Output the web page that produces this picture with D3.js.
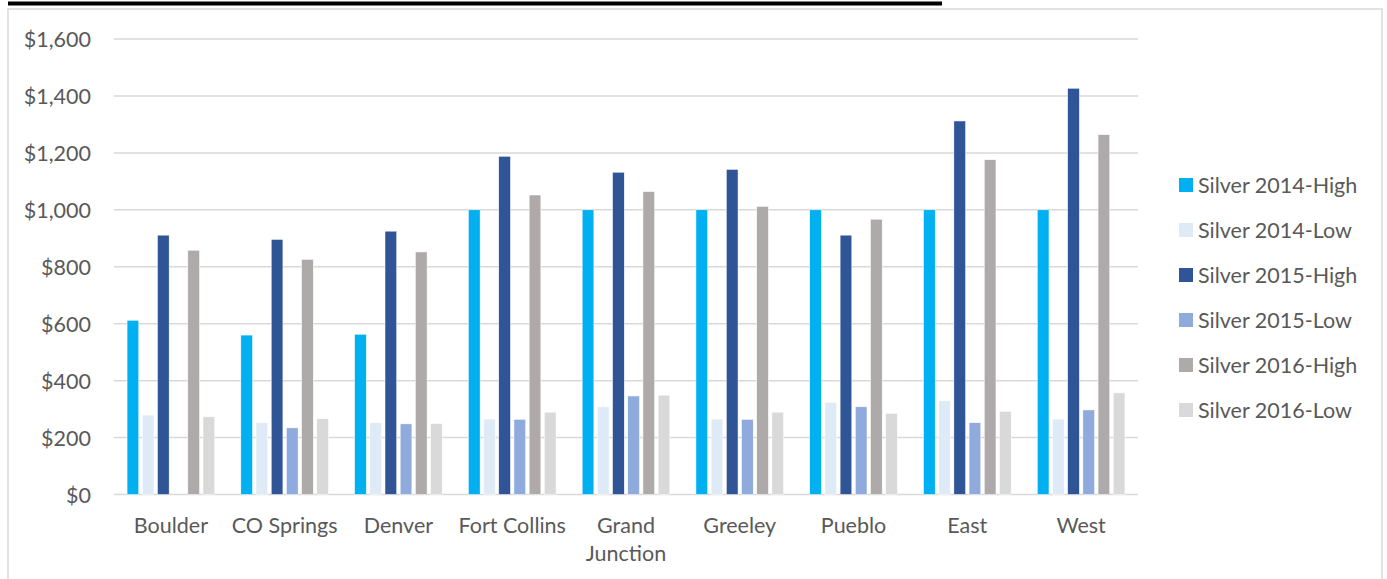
<!DOCTYPE html>
<html>
<head>
<meta charset="utf-8">
<script src="https://cdn.jsdelivr.net/npm/d3@7"></script>
<style>
  body { margin: 0; background: #fff; }
  text { font-family: Lato, "Open Sans", sans-serif; fill: #595959; }
</style>
</head>
<body>
<div id="chart"></div>
<script>
const regions = ["Boulder", "CO Springs", "Denver", "Fort Collins", "Grand Junction", "Greeley", "Pueblo", "East", "West"];
const seriesNames = ["Silver 2014-High", "Silver 2014-Low", "Silver 2015-High", "Silver 2015-Low", "Silver 2016-High", "Silver 2016-Low"];
const silver2014High = [612, 560, 563, 1000, 1000, 1000, 1000, 1000, 1000];
const silver2014Low  = [279, 252, 252, 265, 308, 265, 324, 329, 265];
const silver2015High = [911, 896, 925, 1188, 1132, 1142, 911, 1312, 1427];
const silver2015Low  = [0, 234, 248, 264, 346, 264, 308, 252, 297];
const silver2016High = [858, 826, 852, 1052, 1064, 1012, 967, 1176, 1264];
const silver2016Low  = [273, 266, 249, 289, 349, 289, 285, 292, 357];
const yTicks = [0, 200, 400, 600, 800, 1000, 1200, 1400, 1600];
const colors = ["#00B0F0", "#DEEBF7", "#2F5597", "#8FAADC", "#AEAAAA", "#D9D9D9"];

const seriesValues = [silver2014High, silver2014Low, silver2015High, silver2015Low, silver2016High, silver2016Low];
const fontSize = 21.5;

const width = 1387, height = 579;
const svg = d3.select("#chart").append("svg")
  .attr("width", width)
  .attr("height", height);

// chart frame and cut-off title rule above it
svg.append("rect")
  .attr("x", 8).attr("y", 9)
  .attr("width", 1374).attr("height", 600)
  .attr("fill", "none")
  .attr("stroke", "#D9D9D9")
  .attr("stroke-width", 1.5);
svg.append("rect")
  .attr("x", 8).attr("y", 1.5)
  .attr("width", 934).attr("height", 4)
  .attr("fill", "#000");

const x0 = d3.scaleBand()
  .domain(regions)
  .range([114, 1138]);

const x1 = d3.scaleBand()
  .domain(seriesNames)
  .range([0, x0.bandwidth()])
  .paddingInner(0.23)
  .paddingOuter(0.86);

const y = d3.scaleLinear()
  .domain([0, 1600])
  .range([494.5, 39]);

// gridlines
svg.append("g").selectAll("line")
  .data(yTicks)
  .join("line")
  .attr("x1", 114).attr("x2", 1138)
  .attr("y1", d => y(d)).attr("y2", d => y(d))
  .attr("stroke", "#D9D9D9")
  .attr("stroke-width", 1.5);

// y axis labels
svg.append("g").selectAll("text")
  .data(yTicks)
  .join("text")
  .attr("x", 91)
  .attr("y", d => y(d))
  .attr("text-anchor", "end")
  .attr("dominant-baseline", "central")
  .attr("font-size", fontSize)
  .text(d => "$" + d3.format(",")(d));

// bars
const groups = svg.append("g").selectAll("g")
  .data(regions)
  .join("g")
  .attr("transform", d => `translate(${x0(d)},0)`);

groups.selectAll("rect")
  .data((d, i) => seriesNames.map((s, j) => ({ series: s, value: seriesValues[j][i], color: colors[j] })))
  .join("rect")
  .attr("x", d => x1(d.series))
  .attr("width", x1.bandwidth())
  .attr("y", d => y(d.value))
  .attr("height", d => y(0) - y(d.value))
  .attr("fill", d => d.color)
  .attr("stroke", "#fff")
  .attr("stroke-width", 0.5);

// category labels, long ones wrap to two lines
const labels = svg.append("g").selectAll("text")
  .data(regions)
  .join("text")
  .attr("x", d => x0(d) + x0.bandwidth() / 2)
  .attr("y", 533)
  .attr("text-anchor", "middle")
  .attr("font-size", fontSize);

labels.each(function(d) {
  const lines = d === "Grand Junction" ? ["Grand", "Junction"] : [d];
  d3.select(this).selectAll("tspan")
    .data(lines)
    .join("tspan")
    .attr("x", x0(d) + x0.bandwidth() / 2)
    .attr("dy", (l, i) => i === 0 ? 0 : 28)
    .text(l => l);
});

// legend
const legend = svg.append("g").selectAll("g")
  .data(seriesNames)
  .join("g")
  .attr("transform", (d, i) => `translate(1179,${185 + i * 45})`);

legend.append("rect")
  .attr("x", 0).attr("y", -7)
  .attr("width", 14).attr("height", 14)
  .attr("fill", (d, i) => colors[i]);

legend.append("text")
  .attr("x", 19)
  .attr("y", 0)
  .attr("dominant-baseline", "central")
  .attr("font-size", fontSize)
  .text(d => d);
</script>
</body>
</html>
